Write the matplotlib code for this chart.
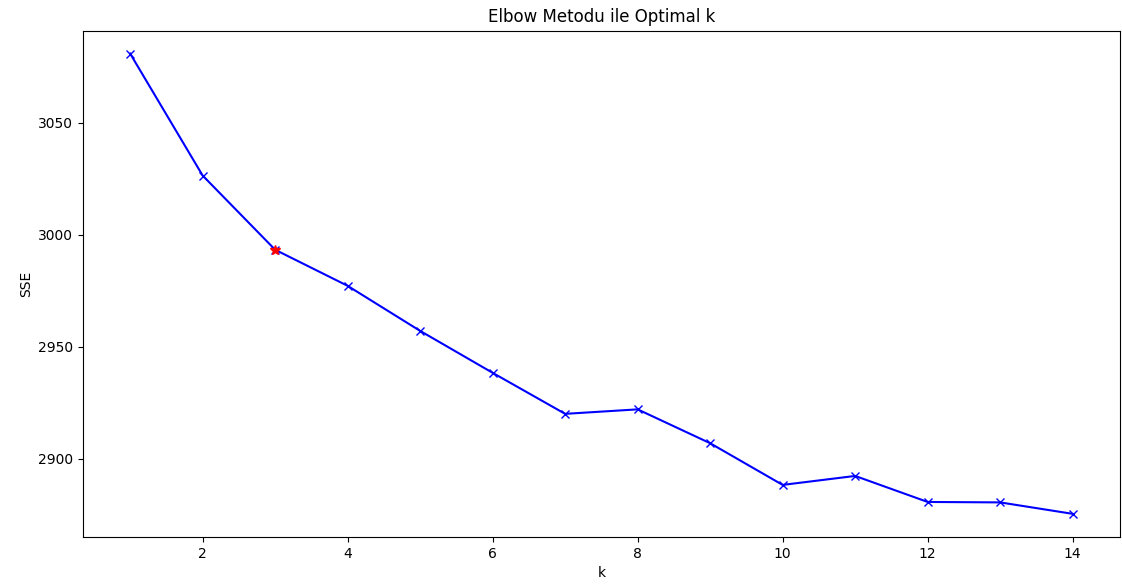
import matplotlib
matplotlib.use('Agg')
import matplotlib.pyplot as plt

k_values = [1, 2, 3, 4, 5, 6, 7, 8, 9, 10, 11, 12, 13, 14]
sse = [3080.8, 3026.4, 2993.3, 2977.2, 2957.1, 2938.4, 2920.1, 2922.1,
       2907.0, 2888.4, 2892.4, 2880.8, 2880.6, 2875.5]
optimal_k = 3

fig = plt.figure(figsize=(11.22, 5.88), dpi=100)
ax = fig.add_axes([0.074, 0.087, 0.924, 0.861])
ax.plot(k_values, sse, 'bx-')
ax.plot(optimal_k, sse[k_values.index(optimal_k)], 'r*', markersize=7)
ax.set_xlabel('k')
ax.set_ylabel('SSE')
ax.set_title('Elbow Metodu ile Optimal k')
fig.savefig('out.png', dpi=100)
